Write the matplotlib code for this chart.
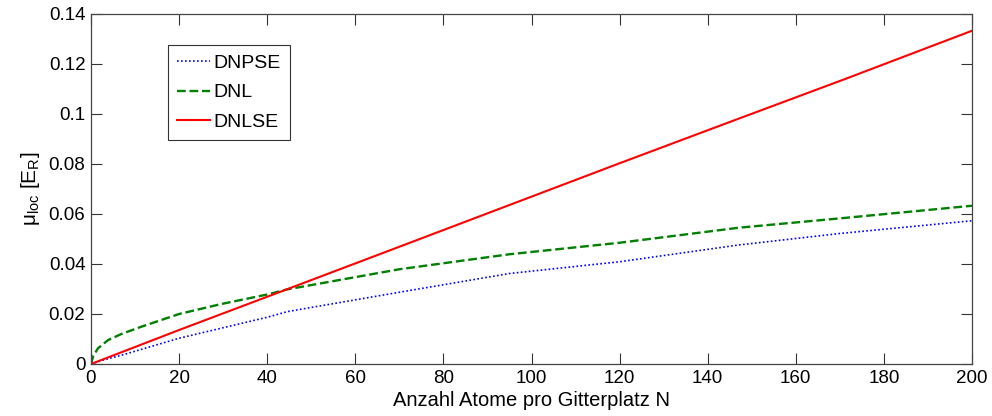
import matplotlib
matplotlib.use("Agg")
import matplotlib.pyplot as plt

# Chemisches Potential des lokalisierten Zustands gegen Atomzahl pro Gitterplatz
n_dnpse = [0, 3, 6.9, 20, 40, 44.7, 70, 95, 120, 147, 170, 200]
mu_dnpse = [0, 0.0017, 0.0035, 0.0103, 0.0187, 0.0210, 0.0287, 0.0362, 0.0409, 0.0476, 0.0522, 0.0573]

n_dnl = [0, 0.5, 1.6, 3.9, 6.9, 11.4, 20, 29.6, 40, 44.7, 70, 95, 120, 147, 171.5, 200]
mu_dnl = [0, 0.0032, 0.0063, 0.0096, 0.0120, 0.0149, 0.0200, 0.0240, 0.0278, 0.0299, 0.0379, 0.0439,
          0.0485, 0.0545, 0.0585, 0.0633]

n_dnlse = [0, 20, 40, 70, 95, 120, 145, 171.5, 200]
mu_dnlse = [0, 0.0136, 0.0269, 0.0469, 0.0636, 0.0803, 0.0968, 0.1142, 0.1333]

plt.rcParams["font.family"] = ["Liberation Sans", "DejaVu Sans"]
plt.rcParams["mathtext.fontset"] = "custom"
plt.rcParams["mathtext.rm"] = "Liberation Sans"
plt.rcParams["mathtext.it"] = "Liberation Sans"

fig = plt.figure(figsize=(9.92, 4.16), dpi=100)
ax = fig.add_axes([91 / 992, 52 / 416, 881 / 992, 350 / 416])

ax.plot(n_dnpse, mu_dnpse, color="b", lw=1.2, dashes=(1, 1.4), label="DNPSE")
ax.plot(n_dnl, mu_dnl, "--", color=(0, 0.5, 0), lw=1.7, label="DNL")
ax.plot(n_dnlse, mu_dnlse, "-", color="r", lw=1.5, label="DNLSE")

ax.set_xlim(0, 200)
ax.set_ylim(0, 0.14)
ax.set_xticks(range(0, 201, 20))
ax.set_yticks([0, 0.02, 0.04, 0.06, 0.08, 0.1, 0.12, 0.14])
ax.set_yticklabels(["0", "0.02", "0.04", "0.06", "0.08", "0.1", "0.12", "0.14"])
ax.tick_params(direction="in", length=8, width=0.8, top=True, right=True,
               labelsize=13.5, colors="#333333", labelcolor="black", pad=4)
for s in ax.spines.values():
    s.set_color("#444444")
    s.set_linewidth(0.9)

ax.set_xlabel("Anzahl Atome pro Gitterplatz N", fontsize=14.5, labelpad=3)
ax.set_ylabel(r"$\mu_{\mathrm{loc}}$ [E$_{\mathrm{R}}$]", fontsize=15, labelpad=5)

leg = ax.legend(loc="upper left", bbox_to_anchor=(0.087, 0.912), fontsize=14,
                fancybox=False, framealpha=1, edgecolor="#333333",
                handlelength=1.7, handletextpad=0.15, borderpad=0.5, labelspacing=0.6,
                borderaxespad=0)
leg.get_frame().set_linewidth(0.8)

fig.savefig("out.png", dpi=100)
